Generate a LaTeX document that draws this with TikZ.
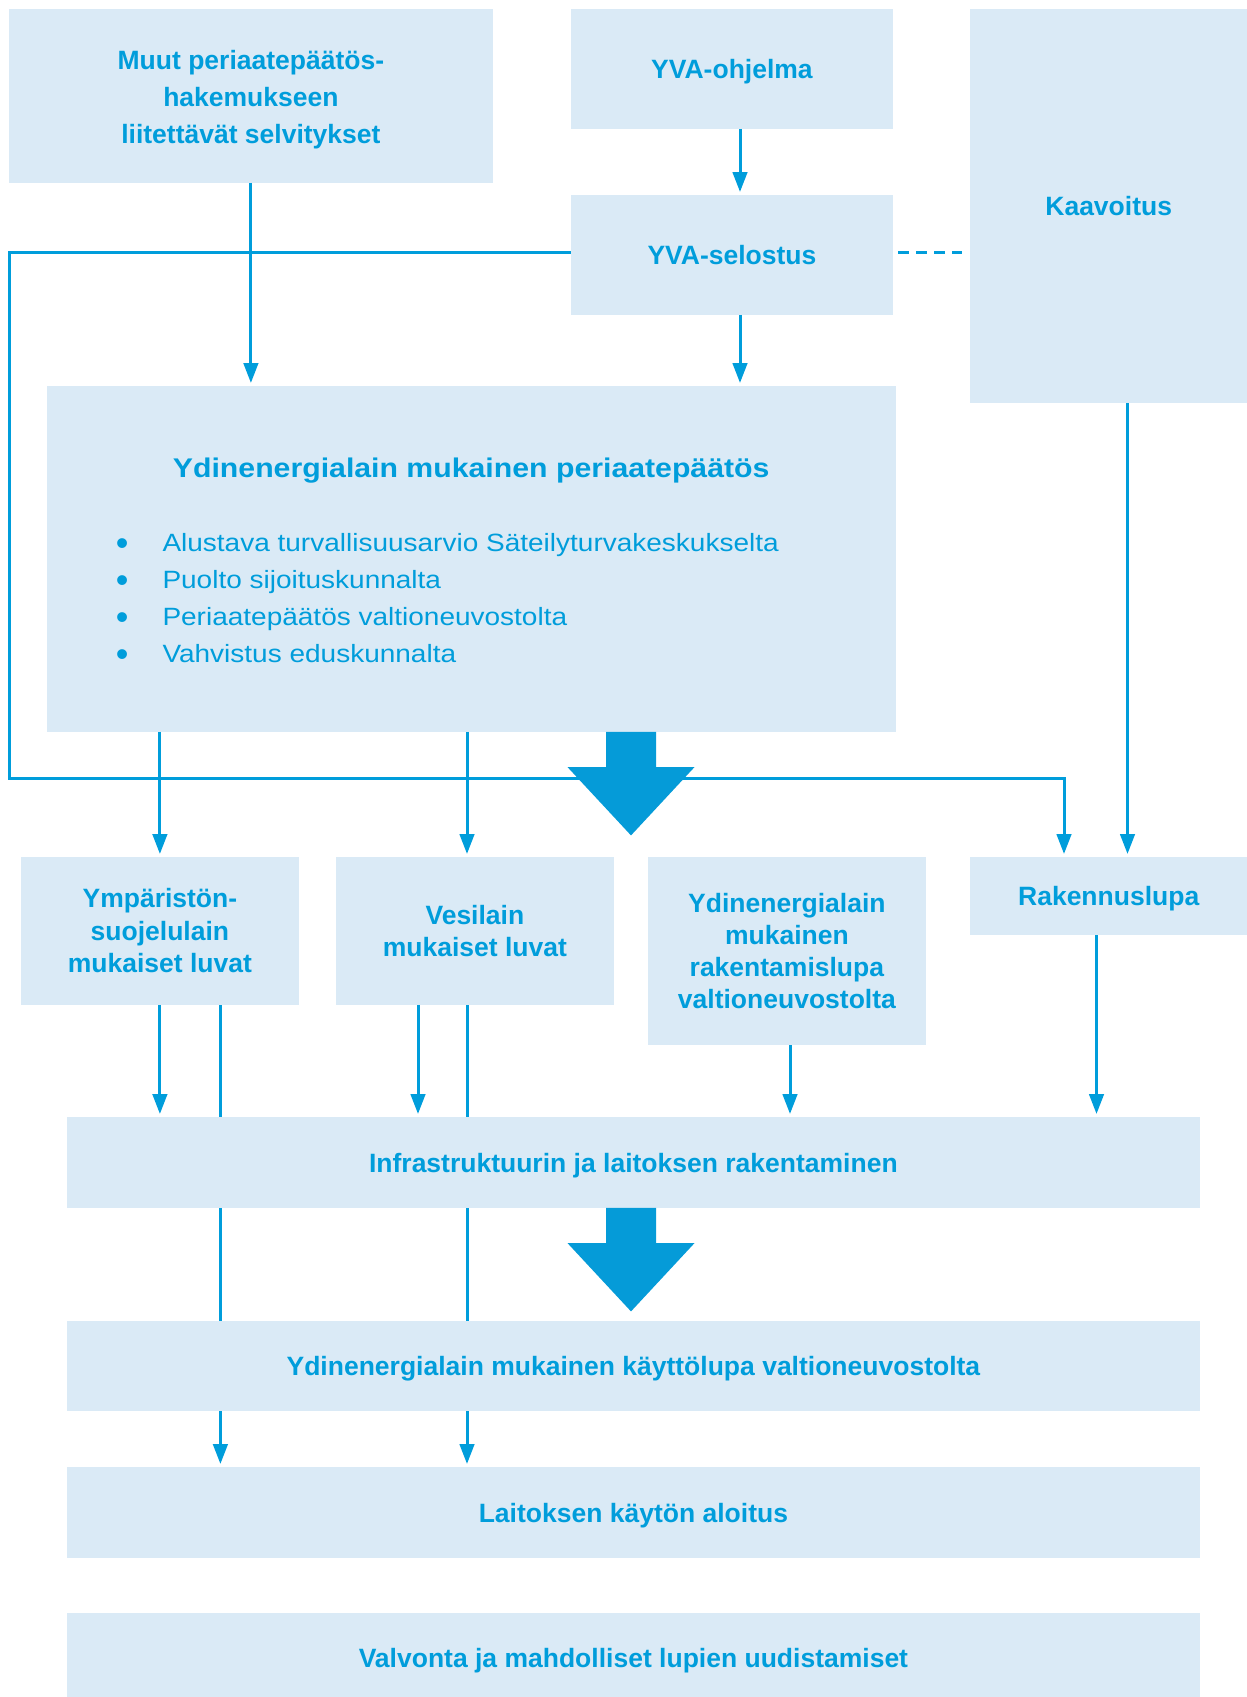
\documentclass[tikz,border=0pt]{standalone}
\usepackage{fontspec}
\setmainfont{Liberation Sans}
\newfontfamily\widefont[FakeStretch=1.12]{Liberation Sans}
\usetikzlibrary{arrows.meta,backgrounds}

\definecolor{stukblue}{RGB}{0,157,219}
\definecolor{boxblue}{RGB}{218,234,246}
\definecolor{arrowblue}{RGB}{5,155,216}

\newcommand\listbullet{\makebox[46.7pt][l]{\rmfamily\fontsize{36}{36}\selectfont\raisebox{-4pt}{\textbullet}}}

\tikzset{
  box/.style={fill=boxblue, text=stukblue, anchor=north west, inner sep=0pt, align=center,
    font=\bfseries\fontsize{26.5}{32.5}\selectfont},
  oneline/.style={box, text depth=0pt},
  conn/.style={draw=stukblue, line width=3pt, -{Triangle[length=20pt,width=14.5pt]}, shorten >=3pt},
  link/.style={draw=stukblue, line width=3pt},
  blockarrow/.pic={
    \fill[arrowblue] (-25,0) -- (25,0) -- (25,35.2) -- (63.5,35.2) -- (0,103.5)
      -- (-63.5,35.2) -- (-25,35.2) -- cycle;
  }
}

\begin{document}
\begin{tikzpicture}[x=1pt,y=-1pt]
\useasboundingbox (0,0) rectangle (1247,1697);

\node[box, minimum width=484pt, minimum height=173.5pt, font=\bfseries\fontsize{26.5}{36.8}\selectfont] (muut) at (8.7,9) {\rule{0pt}{26pt}Muut periaatepäätös-\\hakemukseen\\liitettävät selvitykset};
\node[oneline, minimum width=322.5pt, minimum height=119.5pt] (ohjelma) at (570.5,9) {YVA-ohjelma};
\node[oneline, minimum width=277pt, minimum height=394pt] (kaavoitus) at (970,9) {Kaavoitus};
\node[oneline, minimum width=322.5pt, minimum height=119.5pt] (selostus) at (570.5,195) {YVA-selostus};

\node[box, minimum width=849.5pt, minimum height=345.5pt] (pp) at (46.5,386) {};
\node[text=stukblue, inner sep=0pt, font=\widefont\bfseries\fontsize{27}{32}\selectfont] (pptitle) at (471.2,470.7) {Ydinenergialain mukainen periaatepäätös};
\node[text=stukblue, anchor=north west, inner sep=0pt, align=left, font=\widefont\fontsize{25}{36.8}\selectfont] (pplist) at (115.6,533.4) {\listbullet Alustava turvallisuusarvio Säteilyturvakeskukselta\\\listbullet Puolto sijoituskunnalta\\\listbullet Periaatepäätös valtioneuvostolta\\\listbullet Vahvistus eduskunnalta};

\node[box, minimum width=278.2pt, minimum height=147.5pt] (ymparisto) at (20.6,857) {Ympäristön-\\suojelulain\\mukaiset luvat};
\node[box, minimum width=278.2pt, minimum height=147.5pt] (vesilain) at (335.6,857) {Vesilain\\mukaiset luvat};
\node[box, minimum width=277.4pt, minimum height=187.7pt, font=\bfseries\fontsize{26.5}{31.8}\selectfont] (rakentamis) at (648,857) {Ydinenergialain\\mukainen\\rakentamislupa\\valtioneuvostolta};
\node[oneline, minimum width=277pt, minimum height=77.7pt] (rakennus) at (970,857) {Rakennuslupa};

\node[oneline, minimum width=1132.4pt, minimum height=90.5pt] (infra) at (67,1117) {Infrastruktuurin ja laitoksen rakentaminen};
\node[oneline, minimum width=1132.4pt, minimum height=90pt] (kaytto) at (67,1320.5) {Ydinenergialain mukainen käyttölupa valtioneuvostolta};
\node[oneline, minimum width=1132.4pt, minimum height=90.5pt] (aloitus) at (67,1467) {Laitoksen käytön aloitus};
\node[oneline, minimum width=1132.4pt, minimum height=90pt] (valvonta) at (67,1612.5) {Valvonta ja mahdolliset lupien uudistamiset};

\coordinate (yvacol) at (740,0);
\coordinate (kaavcol) at (1127.5,0);
\coordinate (vesicol) at (467,0);
\coordinate (ympcol) at (220.4,0);
\coordinate (vesiin) at (418,0);
\coordinate (rakcol) at (790,0);
\coordinate (rakbcol) at (1096.5,0);
\coordinate (arrowcol) at (631,0);
\coordinate (loopnw) at (9.9,252.3);
\coordinate (loopsw) at (9.9,778.3);
\coordinate (loopse) at (1064,778.3);

\draw[conn] (muut.south) -- (muut.south |- pp.north);
\draw[conn] (ohjelma.south -| yvacol) -- (selostus.north -| yvacol);
\draw[conn] (selostus.south -| yvacol) -- (pp.north -| yvacol);
\draw[link, dash pattern=on 10.6pt off 7.4pt, shorten <=4.7pt, shorten >=7.7pt] (selostus.east |- loopnw) -- (kaavoitus.west |- loopnw);
\draw[conn] (kaavoitus.south -| kaavcol) -- (rakennus.north -| kaavcol);
\draw[conn] (pp.south -| ymparisto.north) -- (ymparisto.north);
\draw[conn] (pp.south -| vesicol) -- (vesilain.north -| vesicol);
\draw[conn] (ymparisto.south) -- (ymparisto.south |- infra.north);
\draw[conn] (vesilain.south -| vesiin) -- (infra.north -| vesiin);
\draw[conn] (rakentamis.south -| rakcol) -- (infra.north -| rakcol);
\draw[conn] (rakennus.south -| rakbcol) -- (infra.north -| rakbcol);

\begin{scope}[on background layer]
\draw[conn] (selostus.west |- loopnw) -- (loopnw) -- (loopsw) -- (loopse) -- (loopse |- rakennus.north);
\draw[conn] (ymparisto.south -| ympcol) -- (aloitus.north -| ympcol);
\draw[conn] (vesilain.south -| vesicol) -- (aloitus.north -| vesicol);
\end{scope}

\pic at (pp.south -| arrowcol) {blockarrow};
\pic at (infra.south -| arrowcol) {blockarrow};

\end{tikzpicture}
\end{document}
